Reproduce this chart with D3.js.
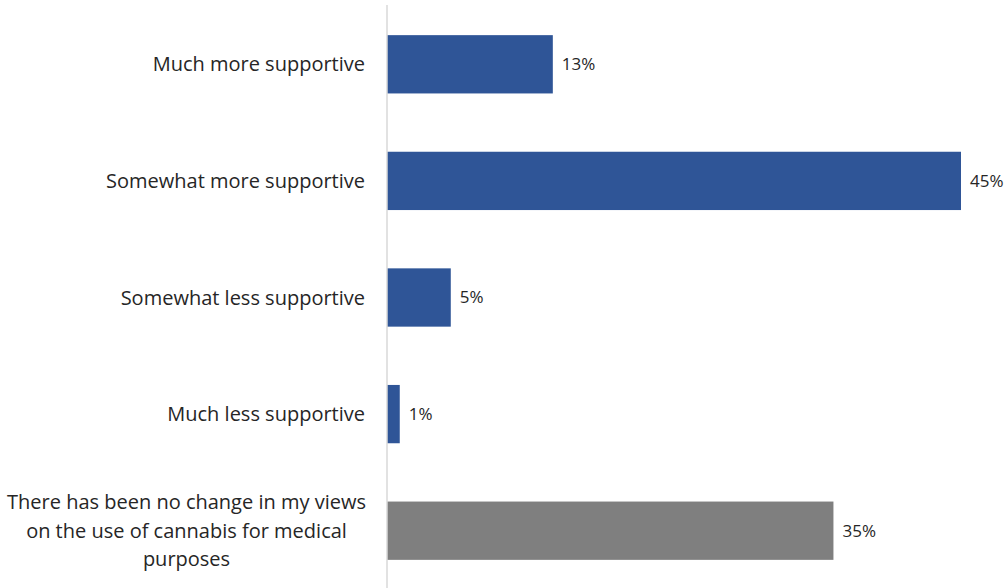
<!DOCTYPE html>
<html><head><meta charset="utf-8">
<script src="https://cdn.jsdelivr.net/npm/d3@7"></script>
<style>body{margin:0;background:#fff}svg{display:block}</style>
</head><body>
<svg id="c" width="1006" height="588"></svg>
<script>
const categories = ["Much more supportive","Somewhat more supportive","Somewhat less supportive","Much less supportive","There has been no change in my views on the use of cannabis for medical purposes"];
const labelLines = [["Much more supportive"],["Somewhat more supportive"],["Somewhat less supportive"],["Much less supportive"],["There has been no change in my views","on the use of cannabis for medical","purposes"]];
const values = [13,45,5,1,35];
const colors = ["#2F5597","#2F5597","#2F5597","#2F5597","#7F7F7F"];

const svg = d3.select("#c");
const x0 = 387;
const x = d3.scaleLinear().domain([0,45]).range([x0, 961]);
const y = d3.scaleBand().domain(categories).range([6,589]).paddingInner(0.5).paddingOuter(0.25);
const font = "'Open Sans', sans-serif";

svg.selectAll("rect.bar").data(values).join("rect")
  .attr("x", x(0)).attr("y",(d,i)=>y(categories[i]))
  .attr("width", d=>x(d)-x(0)).attr("height", y.bandwidth())
  .attr("fill",(d,i)=>colors[i]);

svg.append("line").attr("x1",x0).attr("x2",x0).attr("y1",5).attr("y2",588)
  .attr("stroke","#D9D9D9").attr("stroke-width",1.5);

svg.selectAll("text.val").data(values).join("text")
  .attr("x", d=>x(d)+9).attr("y",(d,i)=>y(categories[i])+y.bandwidth()/2)
  .attr("dy","0.35em").attr("font-family",font).attr("font-size",17)
  .attr("fill","#262626").text(d=>d+"%");

labelLines.forEach((lines,i)=>{
  const cy = y(categories[i])+y.bandwidth()/2;
  const lh = 28.5;
  const multi = lines.length>1;
  lines.forEach((ln,j)=>{
    svg.append("text")
      .attr("x", multi?186.5:365)
      .attr("y", cy + (j-(lines.length-1)/2)*lh)
      .attr("dy","0.35em")
      .attr("text-anchor", multi?"middle":"end")
      .attr("font-family",font).attr("font-size",20)
      .attr("fill","#262626").text(ln);
  });
});
</script>
</body></html>
